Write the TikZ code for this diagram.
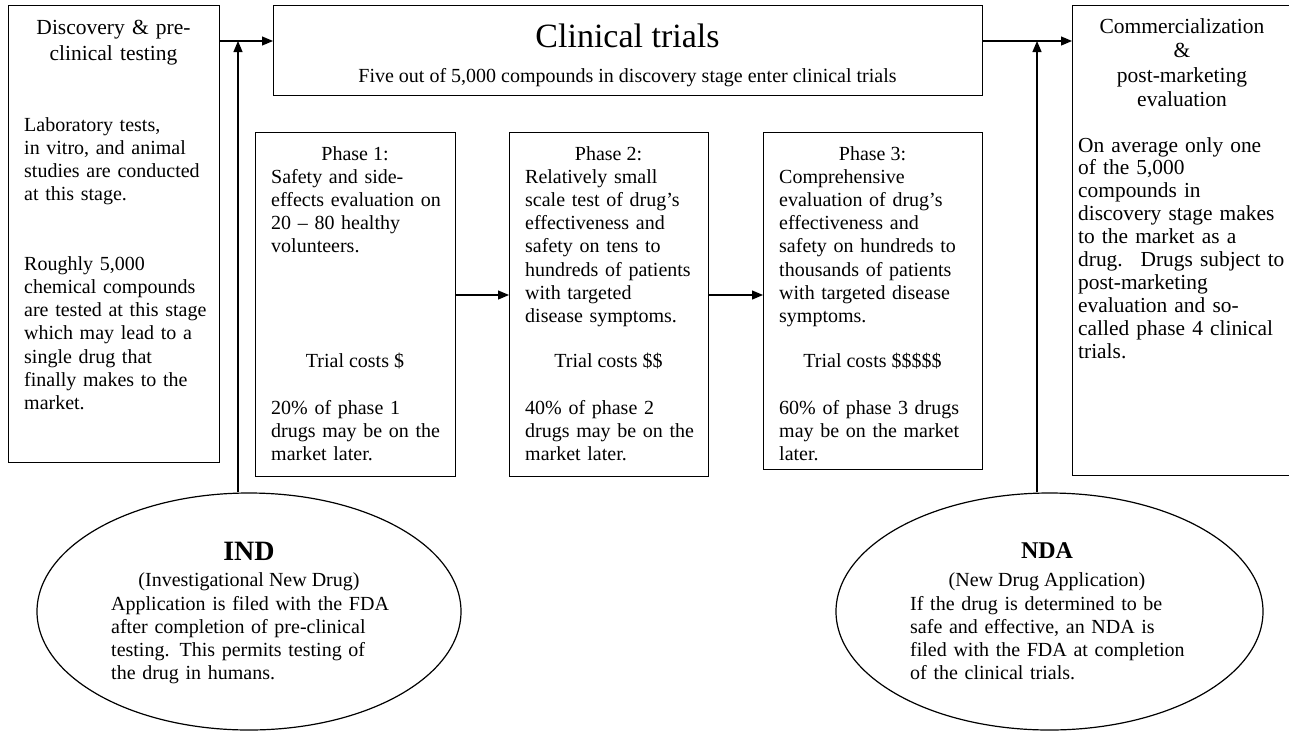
\documentclass[tikz,border=0pt]{standalone}
\usepackage{fontspec}
\setmainfont{Liberation Serif}
\usepackage{tikz}
\usetikzlibrary{arrows.meta,shapes.geometric}

\newcommand{\txtsize}{\fontsize{20}{23.3}\selectfont}
\newcommand{\bigtxt}{\fontsize{21.5}{24.5}\selectfont}

\tikzset{
  box/.style={draw,line width=1.2pt,anchor=north west,inner sep=0pt},
  oval/.style={draw,ellipse,line width=1.2pt,inner sep=0pt},
  txt/.style={anchor=base west,inner sep=0pt,text width=#1,align=left,font=\txtsize},
  txt/.default=340pt,
  head/.style={anchor=base,inner sep=0pt,text width=#1,align=center,font=\bigtxt},
  head/.default=210pt,
  line/.style={anchor=base,inner sep=0pt,font=\txtsize},
  arr/.style={-{Triangle[length=11pt,width=9pt]},line width=1.2pt}
}

\begin{document}
\begin{tikzpicture}[x=1pt,y=-1pt]
  \useasboundingbox (0,0) rectangle (1289,731);

  % boxes
  \node[box,minimum width=211pt,minimum height=457pt] (disc) at (8,5) {};
  \node[box,minimum width=709pt,minimum height=90pt] (clin) at (273,5) {};
  \node[box,minimum width=200pt,minimum height=344pt] (ph1) at (255,132) {};
  \node[box,minimum width=199pt,minimum height=344pt] (ph2) at (509,132) {};
  \node[box,minimum width=219pt,minimum height=337pt] (ph3) at (763,132) {};
  \node[box,minimum width=220pt,minimum height=470pt] (comm) at (1072,5) {};
  \node[oval,minimum width=424pt,minimum height=237pt] (ind) at (249,611.5) {};
  \node[oval,minimum width=427pt,minimum height=237pt] (nda) at (1049.5,611.5) {};

  % discovery
  \node[head,font=\fontsize{21.5}{26}\selectfont] (discT) at (113.5,34) {Discovery \& pre-\\clinical testing};
  \node[txt] (discA) at (24,131) {Laboratory tests,\\in vitro, and animal\\studies are conducted\\at this stage.};
  \node[txt] (discB) at (24,270) {Roughly 5,000\\chemical compounds\\are tested at this stage\\which may lead to a\\single drug that\\finally makes to the\\market.};

  % clinical trials
  \node[line,font=\fontsize{34}{40}\selectfont] (clinT) at (627.5,47) {Clinical trials};
  \node[line] (clinS) at (627.5,82) {Five out of 5,000 compounds in discovery stage enter clinical trials};

  % phases
  \node[line] (ph1T) at (355,160) {Phase 1:};
  \node[txt] (ph1A) at (271,183) {Safety and side-\\effects evaluation on\\20 -- 80 healthy\\volunteers.};
  \node[line] (ph1C) at (355,367) {Trial costs \$};
  \node[txt] (ph1B) at (271,414) {20\% of phase 1\\drugs may be on the\\market later.};

  \node[line] (ph2T) at (608.5,160) {Phase 2:};
  \node[txt] (ph2A) at (525,183) {Relatively small\\scale test of drug's\\effectiveness and\\safety on tens to\\hundreds of patients\\with targeted\\disease symptoms.};
  \node[line] (ph2C) at (608.5,367) {Trial costs \$\$};
  \node[txt] (ph2B) at (525,414) {40\% of phase 2\\drugs may be on the\\market later.};

  \node[line] (ph3T) at (872.5,160) {Phase 3:};
  \node[txt] (ph3A) at (779,183) {Comprehensive\\evaluation of drug's\\effectiveness and\\safety on hundreds to\\thousands of patients\\with targeted disease\\symptoms.};
  \node[line] (ph3C) at (872.5,367) {Trial costs \$\$\$\$\$};
  \node[txt] (ph3B) at (779,414) {60\% of phase 3 drugs\\may be on the market\\later.};

  % commercialization
  \node[head] (commT) at (1182,33) {Commercialization\\\&\\post-marketing\\evaluation};
  \node[txt,font=\fontsize{21.4}{22.9}\selectfont] (commA) at (1078,152) {On average only one\\of the 5,000\\compounds in\\discovery stage makes\\to the market as a\\drug.~ Drugs subject to\\post-marketing\\evaluation and so-\\called phase 4 clinical\\trials.};

  % IND / NDA
  \node[line,font=\fontsize{28}{30}\selectfont\bfseries] (indT) at (249,560) {IND};
  \node[line] (indS) at (249,586) {(Investigational New Drug)};
  \node[txt] (indA) at (111,610) {Application is filed with the FDA\\after completion of pre-clinical\\testing. This permits testing of\\the drug in humans.};

  \node[line,font=\fontsize{24}{26}\selectfont\bfseries] (ndaT) at (1047,558) {NDA};
  \node[line] (ndaS) at (1047,586) {(New Drug Application)};
  \node[txt] (ndaA) at (910,610) {If the drug is determined to be\\safe and effective, an NDA is\\filed with the FDA at completion\\of the clinical trials.};

  % connectors
  \coordinate (toprow) at (0,41);
  \coordinate (midrow) at (0,295);
  \coordinate (indup) at (238,0);
  \coordinate (ndaup) at (1037,0);
  \draw[arr] (disc.east |- toprow) -- (clin.west |- toprow);
  \draw[arr] (clin.east |- toprow) -- (comm.west |- toprow);
  \draw[arr] (ph1.east |- midrow) -- (ph2.west |- midrow);
  \draw[arr] (ph2.east |- midrow) -- (ph3.west |- midrow);
  \draw[arr] (ind.north -| indup) -- (indup |- toprow);
  \draw[arr] (nda.north -| ndaup) -- (ndaup |- toprow);
\end{tikzpicture}
\end{document}
